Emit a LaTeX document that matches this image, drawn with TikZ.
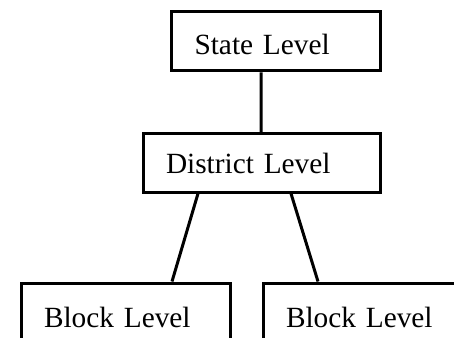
\documentclass[tikz,border=0pt]{standalone}
\usepackage{fontspec}
\setmainfont{Liberation Serif}
\begin{document}
\begin{tikzpicture}[x=0.75pt, y=-0.75pt,
    level/.style={draw, line width=2.25pt, inner ysep=0pt, inner xsep=17pt,
      align=left, text height=15.4pt, text depth=0pt,
      font=\fontsize{22}{26}\selectfont},
    link/.style={line width=2.25pt}]
  % Frame of the picture
  \useasboundingbox (0,0) rectangle (454,337);
  \clip (0,0) rectangle (454,337);
  % Levels
  \node[level, text width=122.6pt, minimum height=44.6pt, text height=20.6pt]
    (state) at (276.25,41.25) {State Level};
  \node[level, text width=144pt, minimum height=43.9pt]
    (district) at (262,162.75) {District Level};
  \node[level, text width=123pt, minimum height=51pt]
    (blockA) at (126,317) {Block Level};
  \node[level, text width=123pt, minimum height=51pt]
    (blockB) at (368,317) {Block Level};
  % Links
  \draw[link] ([xshift=-11.4pt]state.south) -- ([xshift=-0.75pt]district.north);
  \draw[link] ([xshift=-48pt]district.south) -- ([xshift=34.5pt]blockA.north);
  \draw[link] ([xshift=21.75pt]district.south) -- ([xshift=-37.5pt]blockB.north);
\end{tikzpicture}
\end{document}
